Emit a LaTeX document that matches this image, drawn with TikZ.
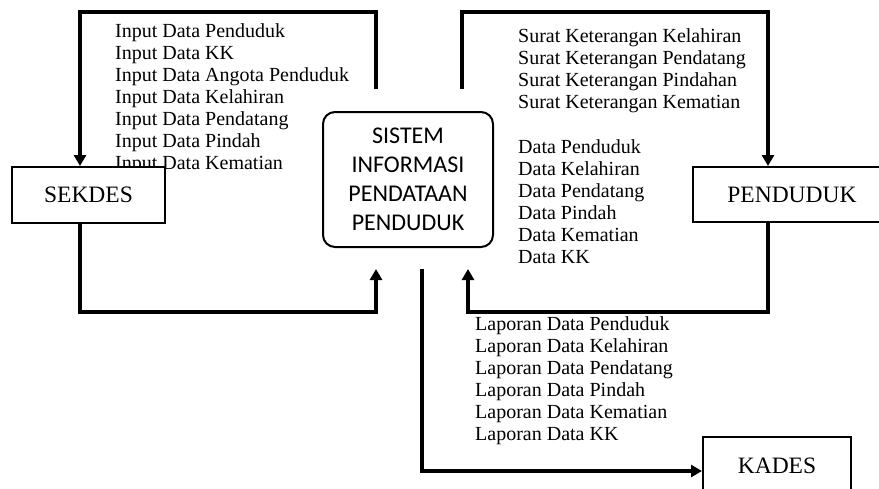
\documentclass[tikz,border=0pt]{standalone}
\usepackage{fontspec}
\setmainfont{Liberation Serif}
\newfontfamily\sysfont{Carlito}
\usetikzlibrary{arrows.meta}
\tikzset{flow/.style={line width=3.5pt,-{Triangle[length=11pt,width=12pt]}},
entity/.style={draw,fill=white,line width=2pt,font=\fontsize{23.5}{28}\selectfont},
listtext/.style={anchor=north west,inner sep=0pt,align=left,font=\fontsize{20}{22}\selectfont}}
\def\drawflow{\draw[flow]}

\begin{document}
\begin{tikzpicture}[x=1pt,y=-1pt]
\useasboundingbox (0,0) rectangle (879,488);
\clip (0,0) rectangle (879,488);
\node[listtext] (inputs) at (115,23) {Input Data Penduduk\\Input Data KK\\Input Data Angota Penduduk\\Input Data Kelahiran\\Input Data Pendatang\\Input Data Pindah\\Input Data Kematian};
\node[listtext] (surat) at (518,28.5) {Surat Keterangan Kelahiran\\Surat Keterangan Pendatang\\Surat Keterangan Pindahan\\Surat Keterangan Kematian\\[23pt]Data Penduduk\\Data Kelahiran\\Data Pendatang\\Data Pindah\\Data Kematian\\Data KK};
\node[listtext] (laporan) at (475,316.5) {Laporan Data Penduduk\\Laporan Data Kelahiran\\Laporan Data Pendatang\\Laporan Data Pindah\\Laporan Data Kematian\\Laporan Data KK};
\node[draw,line width=2pt,rounded corners=12pt,minimum width=170pt,minimum height=135pt,align=center,font=\sysfont\fontsize{24}{29}\selectfont] (sistem) at (408,179.5) {SISTEM\\INFORMASI\\PENDATAAN\\PENDUDUK};
\node[entity,minimum width=153pt,minimum height=56pt] (sekdes) at (88.5,195) {SEKDES};
\node[entity,minimum width=198pt,minimum height=55pt] (penduduk) at (792,194.5) {PENDUDUK};
\node[entity,minimum width=148pt,minimum height=58pt] (kades) at (777,466) {KADES};
\coordinate (railtop) at (0,12);
\coordinate (railbot) at (0,312);
\coordinate (in1) at ([shift={(-32pt,22pt)}]sistem.north);
\coordinate (in2) at ([shift={(54pt,22pt)}]sistem.north);
\coordinate (out1) at ([shift={(-32pt,-21pt)}]sistem.south);
\coordinate (out2) at ([shift={(60pt,-21pt)}]sistem.south);
\coordinate (out3) at ([shift={(14pt,-21pt)}]sistem.south);
\drawflow (in1) -- (in1 |- railtop) -| ([xshift=-8.5pt]sekdes.north);
\drawflow ([xshift=-8.5pt]sekdes.south) |- (out1 |- railbot) -- (out1);
\drawflow (in2) -- (in2 |- railtop) -| ([xshift=-24pt]penduduk.north);
\drawflow ([xshift=-24pt]penduduk.south) |- (out2 |- railbot) -- (out2);
\drawflow (out3) |- ([yshift=-5pt]kades.west);
\end{tikzpicture}
\end{document}
